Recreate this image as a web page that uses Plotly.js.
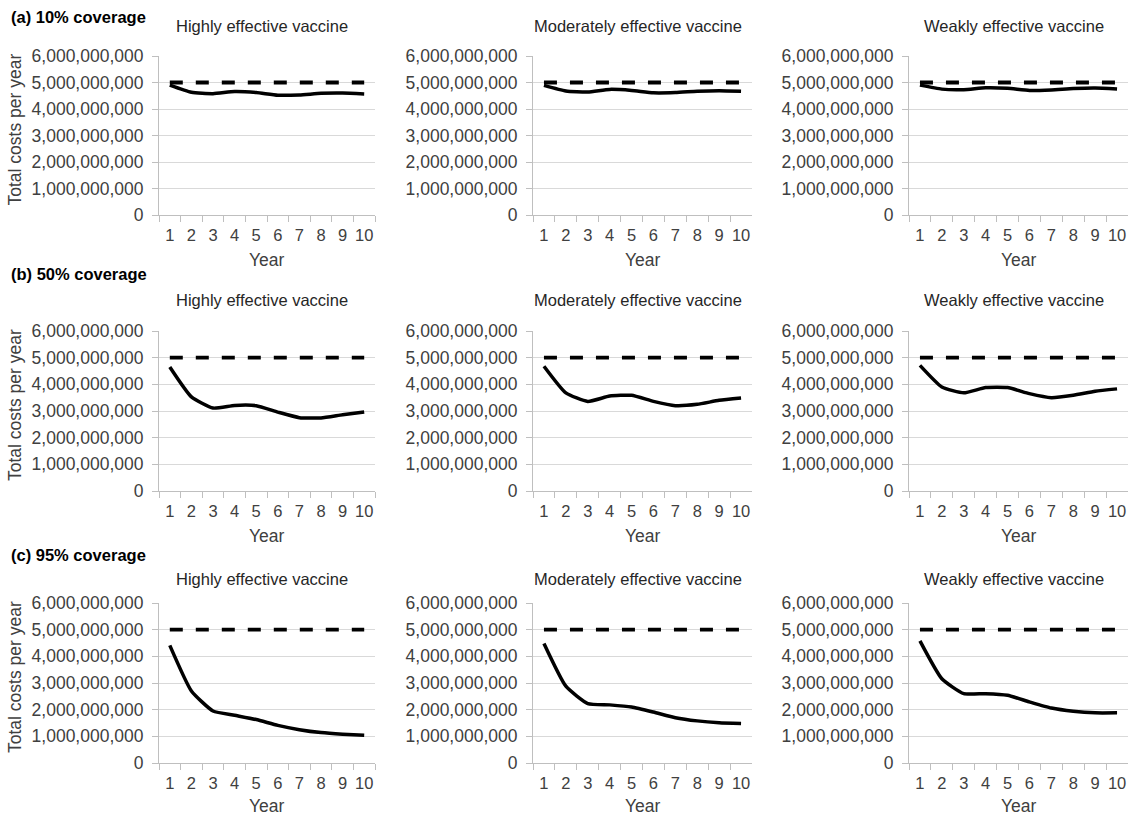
<!DOCTYPE html>
<html>
<head>
<meta charset="utf-8">
<script src="https://cdn.plot.ly/plotly-3.0.1.min.js"></script>
<style>html,body{margin:0;padding:0;background:#fff;}#chart{width:1128px;height:817px;}</style>
</head>
<body>
<div id="chart"></div>
<script>
// ---- Data ----
const years = ['1','2','3','4','5','6','7','8','9','10'];
const baseline = [5.0e9,5.0e9,5.0e9,5.0e9,5.0e9,5.0e9,5.0e9,5.0e9,5.0e9,5.0e9];

const high10 = [4.90e9,4.63e9,4.58e9,4.66e9,4.62e9,4.52e9,4.53e9,4.59e9,4.60e9,4.57e9];
const mod10  = [4.89e9,4.68e9,4.64e9,4.74e9,4.70e9,4.61e9,4.62e9,4.67e9,4.69e9,4.67e9];
const weak10 = [4.90e9,4.75e9,4.73e9,4.80e9,4.78e9,4.70e9,4.72e9,4.77e9,4.79e9,4.75e9];

const high50 = [4.65e9,3.53e9,3.11e9,3.21e9,3.20e9,2.96e9,2.75e9,2.74e9,2.86e9,2.96e9];
const mod50  = [4.68e9,3.68e9,3.36e9,3.56e9,3.59e9,3.36e9,3.20e9,3.25e9,3.40e9,3.49e9];
const weak50 = [4.71e9,3.90e9,3.68e9,3.88e9,3.88e9,3.65e9,3.50e9,3.59e9,3.74e9,3.83e9];

const high95 = [4.41e9,2.70e9,1.95e9,1.79e9,1.63e9,1.41e9,1.25e9,1.14e9,1.08e9,1.04e9];
const mod95  = [4.48e9,2.88e9,2.23e9,2.18e9,2.10e9,1.91e9,1.70e9,1.58e9,1.51e9,1.48e9];
const weak95 = [4.58e9,3.16e9,2.60e9,2.60e9,2.54e9,2.29e9,2.06e9,1.94e9,1.88e9,1.88e9];

const panelLabels = ['(a) 10% coverage','(b) 50% coverage','(c) 95% coverage'];
const vaccineTitles = ['Highly effective vaccine','Moderately effective vaccine','Weakly effective vaccine'];
const xTitle = 'Year';
const yTitle = 'Total costs per year';

const grid = [
  [high10, mod10, weak10],
  [high50, mod50, weak50],
  [high95, mod95, weak95]
];

// ---- Layout geometry (pixels) ----
const W = 1128, H = 817;
const colX = [[159, 375], [533, 752], [909, 1128]];
const rowY = [[56, 215], [331, 491], [603, 763]];
const panelY = [17, 274, 555];
const titleY = [26, 300, 579];
const yearY = [260, 536, 806];

const FONT = 'Liberation Sans, Arial, sans-serif';
const FS = 16.5;
const TFS = 17.5;
const TXT = '#404040';

const traces = [];
const layout = {
  width: W, height: H,
  margin: {l:0, r:0, t:0, b:0},
  paper_bgcolor: '#ffffff',
  plot_bgcolor: '#ffffff',
  showlegend: false,
  font: {family: FONT, size: FS, color: TXT},
  annotations: []
};

let k = 0;
for (let r = 0; r < 3; r++) {
  for (let c = 0; c < 3; c++) {
    k++;
    const xa = 'x' + (k === 1 ? '' : k);
    const ya = 'y' + (k === 1 ? '' : k);
    const xk = 'xaxis' + (k === 1 ? '' : k);
    const yk = 'yaxis' + (k === 1 ? '' : k);

    traces.push({
      x: years, y: baseline, xaxis: xa, yaxis: ya,
      type: 'scatter', mode: 'lines',
      line: {color: '#000000', width: 3.8, dash: '13px,13px'},
      hoverinfo: 'skip'
    });
    traces.push({
      x: years, y: grid[r][c], xaxis: xa, yaxis: ya,
      type: 'scatter', mode: 'lines',
      line: {color: '#000000', width: 3.5, shape: 'spline', smoothing: 0.5},
      hoverinfo: 'skip'
    });

    layout[xk] = {
      domain: [colX[c][0] / W, colX[c][1] / W],
      anchor: ya,
      type: 'category',
      categoryorder: 'array', categoryarray: years,
      range: [-0.5, 9.5],
      tickson: 'boundaries',
      tickangle: 0,
      ticks: 'outside', ticklen: 6, tickcolor: '#bfbfbf', tickwidth: 1,
      ticklabelstandoff: 5,
      showline: true, linecolor: '#bfbfbf', linewidth: 1,
      showgrid: false, zeroline: false,
      tickfont: {family: FONT, size: FS, color: TXT},
      fixedrange: true
    };
    layout[yk] = {
      domain: [1 - rowY[r][1] / H, 1 - rowY[r][0] / H],
      anchor: xa,
      range: [0, 6e9],
      dtick: 1e9, tick0: 0,
      tickformat: ',.0f',
      ticks: 'outside', ticklen: 6, tickcolor: '#bfbfbf', tickwidth: 1,
      ticklabelstandoff: 5,
      showline: true, linecolor: '#bfbfbf', linewidth: 1,
      showgrid: true, gridcolor: '#d9d9d9', gridwidth: 1,
      zeroline: false,
      tickfont: {family: FONT, size: TFS, color: TXT},
      fixedrange: true
    };

    const cx = (colX[c][0] + colX[c][1]) / 2;
    layout.annotations.push({
      text: vaccineTitles[c], xref: 'paper', yref: 'paper',
      x: (cx - 5) / W, y: 1 - titleY[r] / H,
      xanchor: 'center', yanchor: 'middle', showarrow: false,
      font: {family: FONT, size: FS, color: '#262626'}
    });
    layout.annotations.push({
      text: xTitle, xref: 'paper', yref: 'paper',
      x: cx / W, y: 1 - yearY[r] / H,
      xanchor: 'center', yanchor: 'middle', showarrow: false,
      font: {family: FONT, size: TFS, color: TXT}
    });
    if (c === 0) {
      const cy = (rowY[r][0] + rowY[r][1]) / 2 - 6;
      layout.annotations.push({
        text: yTitle, xref: 'paper', yref: 'paper',
        x: 15 / W, y: 1 - cy / H, textangle: -90,
        xanchor: 'center', yanchor: 'middle', showarrow: false,
        font: {family: FONT, size: TFS, color: TXT}
      });
    }
  }
  layout.annotations.push({
    text: '<b>' + panelLabels[r] + '</b>', xref: 'paper', yref: 'paper',
    x: 9 / W, y: 1 - panelY[r] / H,
    xanchor: 'left', yanchor: 'middle', showarrow: false,
    font: {family: FONT, size: FS, color: '#000000'}
  });
}

Plotly.newPlot('chart', traces, layout, {staticPlot: true, displayModeBar: false});
</script>
</body>
</html>
